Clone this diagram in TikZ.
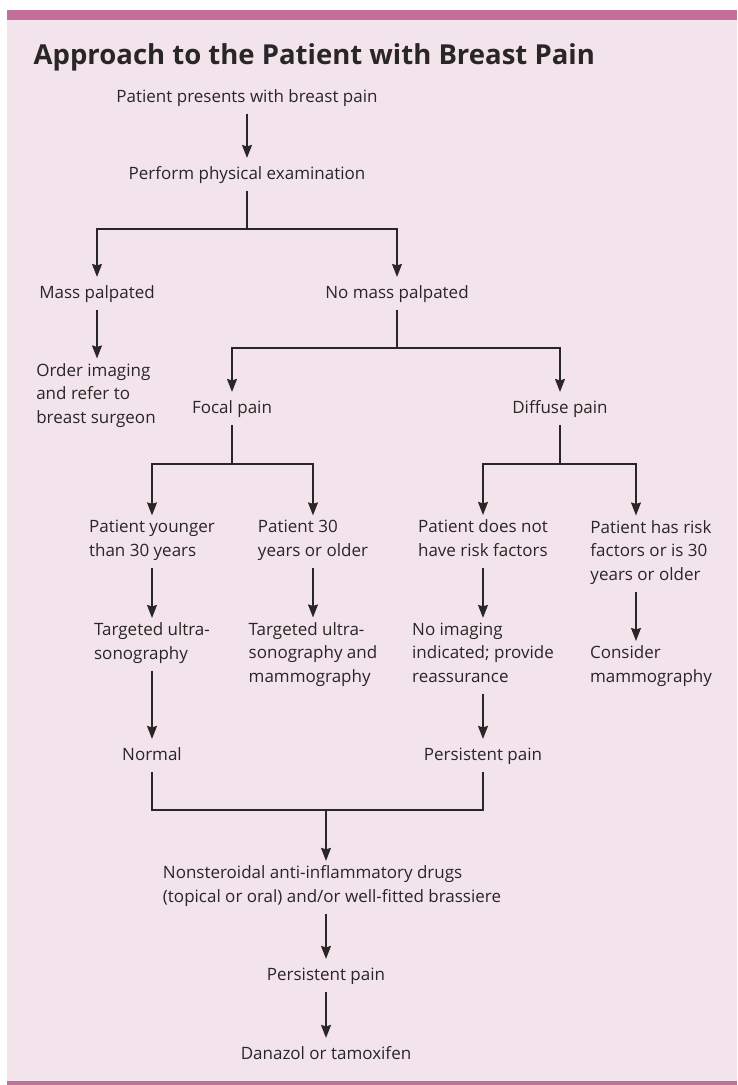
\documentclass[tikz,border=0pt]{standalone}
\usepackage{fontspec}
\setmainfont{Open Sans}
\usetikzlibrary{arrows.meta}
\definecolor{barpink}{RGB}{194,112,152}
\definecolor{boxpink}{RGB}{243,228,235}
\definecolor{ink}{RGB}{40,38,39}

\begin{document}
\begin{tikzpicture}[x=1pt,y=-1pt,line width=1.3pt,
    >={Stealth[length=13pt,width=10pt,inset=1.5pt]},
    txt/.style={text=ink,inner sep=4pt,anchor=base,align=left,
        font=\fontsize{17}{23.5}\selectfont,
        execute at begin node=\strut,execute at end node=\strut}]
\useasboundingbox (0,0) rectangle (737,1085);
\fill[white] (0,0) rectangle (737,1085);
\fill[boxpink] (7,20) rectangle (737,1081);
\fill[barpink] (7,9.5) rectangle (737,20);
\fill[barpink] (7,1081) rectangle (737,1085);

\node[text=ink,anchor=base west,inner sep=0pt,font=\fontsize{27.5}{32}\selectfont\bfseries]
    (title) at (33,64) {Approach to the Patient with Breast Pain};

% multi-line nodes sit on the baseline of their last line
\node[txt] (start) at (247,102) {Patient presents with breast pain};
\node[txt] (exam) at (247,179) {Perform physical examination};
\node[txt] (mass) at (97,298) {Mass palpated};
\node[txt] (nomass) at (397,298) {No mass palpated};
\node[txt] (order) at (96,423) {Order imaging\\and refer to\\breast surgeon};
\node[txt] (focal) at (232,413) {Focal pain};
\node[txt] (diffuse) at (560,413) {Diffuse pain};
\node[txt] (young) at (152,556) {Patient younger\\than 30 years};
\node[txt] (older) at (313,556) {Patient 30\\years or older};
\node[txt] (norisk) at (483,556) {Patient does not\\have risk factors};
\node[txt] (risk) at (651,580) {Patient has risk\\factors or is 30\\years or older};
\node[txt] (usg) at (152,659) {Targeted ultra-\\sonography};
\node[txt] (usgm) at (313,682) {Targeted ultra-\\sonography and\\mammography};
\node[txt] (noimg) at (483,682) {No imaging\\indicated; provide\\reassurance};
\node[txt] (mammo) at (651,682) {Consider\\mammography};
\node[txt] (normal) at (152,760) {Normal};
\node[txt] (pers1) at (483,760) {Persistent pain};
\node[txt] (nsaid) at (332,902) {Nonsteroidal anti-inflammatory drugs\\(topical or oral) and/or well-fitted brassiere};
\node[txt] (pers2) at (326,980) {Persistent pain};
\node[txt] (drug) at (326,1059) {Danazol or tamoxifen};

% split and merge points
\coordinate (s1) at (247,229);
\coordinate (s2) at (397,348);
\coordinate (s3) at (232,464);
\coordinate (s4) at (560,464);
\coordinate (m1) at (326,810);
\coordinate (c4) at (636,0);

\begin{scope}[draw=ink,->]
\draw (start) -- (exam);
\draw[-] (exam) -- (s1);
\draw (s1) -| (mass);
\draw (s1) -| (nomass);
\draw (mass) -- (order.north -| mass);
\draw[-] (nomass) -- (s2);
\draw (s2) -| (focal);
\draw (s2) -| (diffuse);
\draw[-] (focal) -- (s3);
\draw (s3) -| (young);
\draw (s3) -| (older);
\draw[-] (diffuse) -- (s4);
\draw (s4) -| (norisk);
\draw (s4) -| (risk.north -| c4);
\draw (young) -- (usg);
\draw (older) -- (usgm);
\draw (norisk) -- (noimg);
\draw (risk.south -| c4) -- (mammo.north -| c4);
\draw (usg) -- (normal);
\draw (noimg) -- (pers1);
\draw[-] (normal) |- (m1) -| (pers1);
\draw (m1) -- (nsaid.north -| m1);
\draw (nsaid.south -| m1) -- (pers2);
\draw (pers2) -- (drug);
\end{scope}
\end{tikzpicture}
\end{document}
